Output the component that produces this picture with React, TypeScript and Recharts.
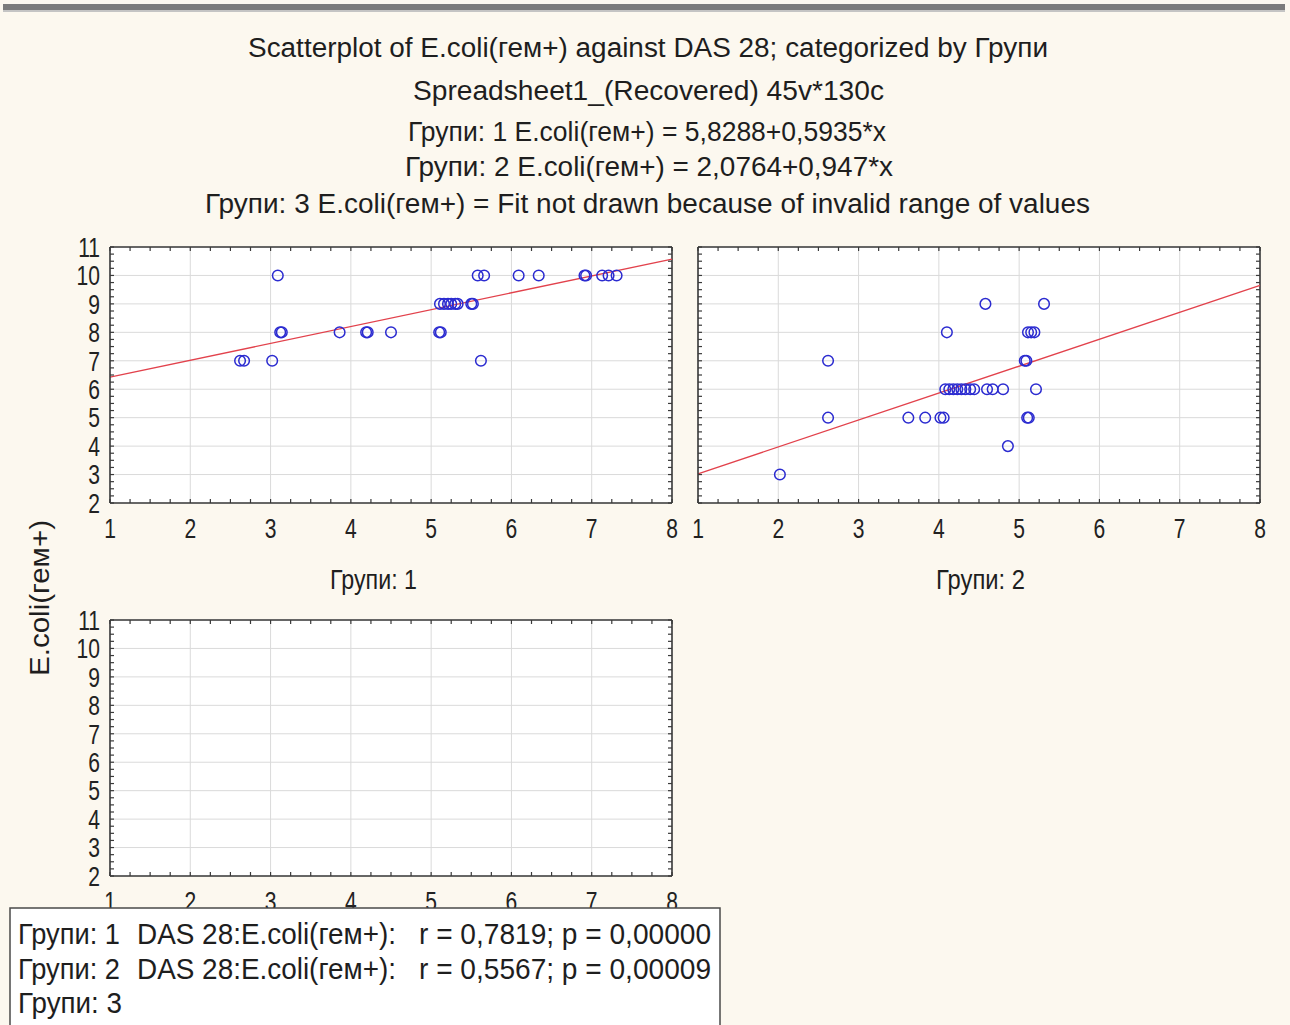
import React from "react";
import { ScatterChart, Scatter, XAxis, YAxis, CartesianGrid, ReferenceLine } from "recharts";

const FONT = '"Liberation Sans", Arial, sans-serif';
const BG = "#fcf8ef";
const FRAME = "#3a3a3a";
const GRID = "#dadada";
const DOT = "#2b2bd0";
const FIT = "#e2424c";

// axis ticks: labelled integers plus quarter-step minor marks
const xTicks = [1, 2, 3, 4, 5, 6, 7, 8];
const yTicks = [2, 3, 4, 5, 6, 7, 8, 9, 10, 11];
const quarterSteps = (from: number, to: number) => {
  const out: number[] = [];
  for (let v = from; v <= to + 1e-9; v += 0.25) out.push(Math.round(v * 100) / 100);
  return out;
};
const minorX = quarterSteps(1, 8);
const minorY = quarterSteps(2, 11);

// Групи: 1
const group1Das = [
  3.09, 2.62, 2.67, 3.02, 3.12, 3.14, 3.86, 4.19, 4.21, 4.5, 5.1, 5.12, 5.62,
  5.11, 5.16, 5.21, 5.25, 5.3, 5.33, 5.5, 5.52,
  5.58, 5.66, 6.09, 6.34, 6.91, 6.93, 7.13, 7.21, 7.31,
];
const group1Ecoli = [
  10, 7, 7, 7, 8, 8, 8, 8, 8, 8, 8, 8, 7,
  9, 9, 9, 9, 9, 9, 9, 9,
  10, 10, 10, 10, 10, 10, 10, 10, 10,
];

// Групи: 2
const group2Das = [
  2.02, 2.62, 2.62, 3.62, 3.83, 4.02, 4.06, 4.1, 4.58, 5.31,
  4.08, 4.13, 4.18, 4.23, 4.28, 4.33, 4.39, 4.44, 4.6, 4.67, 4.8, 5.21,
  5.1, 5.12, 5.07, 5.09, 5.11, 5.15, 5.19, 4.86,
];
const group2Ecoli = [
  3, 7, 5, 5, 5, 5, 5, 8, 9, 9,
  6, 6, 6, 6, 6, 6, 6, 6, 6, 6, 6, 6,
  5, 5, 7, 7, 8, 8, 8, 4,
];

// fitted lines: E.coli = a + b*x
const fitIntercept = [5.8288, 2.0764];
const fitSlope = [0.5935, 0.947];

const toPoints = (xs: number[], ys: number[]) => xs.map((x, i) => ({ x, y: ys[i] }));

const PLOT_W = 562;
const PLOT_H = 256;
const TOP_PAD = 20;
const X_AXIS_H = 44;
const TICK_FONT = 27;
const MINOR_LEN = 4;

const OpenCircle = (props: any) => {
  const { cx, cy } = props;
  if (cx == null || cy == null) return null;
  return <circle cx={cx} cy={cy} r={5.3} fill="none" stroke={DOT} strokeWidth={1.5} />;
};

const isWhole = (v: number) => Math.abs(v - Math.round(v)) < 1e-6;

// bottom axis tick: inward marks on bottom and top edges, condensed label on integers
const BottomTick = (props: any) => {
  const { x, y, payload, plotTop, plotBottom } = props;
  const v = payload.value as number;
  return (
    <g>
      <line x1={x} x2={x} y1={plotBottom} y2={plotBottom - MINOR_LEN} stroke={FRAME} strokeWidth={1.2} />
      <line x1={x} x2={x} y1={plotTop} y2={plotTop + MINOR_LEN} stroke={FRAME} strokeWidth={1.2} />
      {isWhole(v) && (
        <text
          transform={`translate(${x},${y}) scale(0.78,1)`}
          textAnchor="middle"
          dy="0.72em"
          fontSize={TICK_FONT}
          fontFamily={FONT}
          fill="#222"
        >
          {v}
        </text>
      )}
    </g>
  );
};

// left axis tick: inward marks on left and right edges, optional label
const LeftTick = (props: any) => {
  const { x, y, payload, plotLeft, plotRight, showLabel } = props;
  const v = payload.value as number;
  return (
    <g>
      <line x1={plotLeft} x2={plotLeft + MINOR_LEN} y1={y} y2={y} stroke={FRAME} strokeWidth={1.2} />
      <line x1={plotRight} x2={plotRight - MINOR_LEN} y1={y} y2={y} stroke={FRAME} strokeWidth={1.2} />
      {showLabel && isWhole(v) && (
        <text
          transform={`translate(${x},${y}) scale(0.78,1)`}
          textAnchor="end"
          dy="0.36em"
          fontSize={TICK_FONT}
          fontFamily={FONT}
          fill="#222"
        >
          {v}
        </text>
      )}
    </g>
  );
};

interface PanelProps {
  left: number;
  top: number;
  points: { x: number; y: number }[];
  fit?: { a: number; b: number };
  yLabels: boolean;
}

function Panel({ left, top, points, fit, yLabels }: PanelProps) {
  const yAxisW = yLabels ? 50 : 10;
  const width = yAxisW + PLOT_W + 10;
  const height = TOP_PAD + PLOT_H + X_AXIS_H;
  return (
    <div style={{ position: "absolute", left, top }}>
      <ScatterChart width={width} height={height} margin={{ top: TOP_PAD, right: 10, left: 0, bottom: 0 }}>
        <CartesianGrid fill="#ffffff" horizontal={false} vertical={false} />
        {xTicks.map((v) => (
          <ReferenceLine key={`gx${v}`} x={v} stroke={GRID} strokeWidth={1} />
        ))}
        {yTicks.map((v) => (
          <ReferenceLine key={`gy${v}`} y={v} stroke={GRID} strokeWidth={1} />
        ))}
        <ReferenceLine x={8} stroke={FRAME} strokeWidth={1.6} />
        <ReferenceLine y={11} stroke={FRAME} strokeWidth={1.6} />
        <XAxis
          type="number"
          dataKey="x"
          domain={[1, 8]}
          ticks={minorX}
          interval={0}
          height={X_AXIS_H}
          allowDataOverflow
          axisLine={{ stroke: FRAME, strokeWidth: 1.6 }}
          tickLine={false}
          tickSize={6}
          tickMargin={10}
          tick={<BottomTick plotTop={TOP_PAD} plotBottom={TOP_PAD + PLOT_H} />}
        />
        <YAxis
          type="number"
          dataKey="y"
          domain={[2, 11]}
          ticks={minorY}
          interval={0}
          width={yAxisW}
          allowDataOverflow
          axisLine={{ stroke: FRAME, strokeWidth: 1.6 }}
          tickLine={false}
          tickSize={6}
          tickMargin={4}
          tick={<LeftTick plotLeft={yAxisW} plotRight={yAxisW + PLOT_W} showLabel={yLabels} />}
        />
        {fit && (
          <ReferenceLine
            segment={[
              { x: 1, y: fit.a + fit.b * 1 },
              { x: 8, y: fit.a + fit.b * 8 },
            ]}
            stroke={FIT}
            strokeWidth={1.3}
          />
        )}
        {points.length > 0 && (
          <Scatter data={points} shape={OpenCircle} isAnimationActive={false} />
        )}
      </ScatterChart>
    </div>
  );
}

const txt = { fontFamily: FONT, fill: "#1e1e1e" };

export default function App() {
  return (
    <div style={{ position: "absolute", left: 0, top: 0, width: 1290, height: 1025, background: BG, overflow: "hidden" }}>
      <Panel
        left={60}
        top={227}
        points={toPoints(group1Das, group1Ecoli)}
        fit={{ a: fitIntercept[0], b: fitSlope[0] }}
        yLabels
      />
      <Panel
        left={688}
        top={227}
        points={toPoints(group2Das, group2Ecoli)}
        fit={{ a: fitIntercept[1], b: fitSlope[1] }}
        yLabels={false}
      />
      <Panel left={60} top={600} points={[]} yLabels />
      <svg width={1290} height={1025} style={{ position: "absolute", left: 0, top: 0, pointerEvents: "none" }}>
        <rect x={3} y={4} width={1282} height={6} fill="#7b7b7b" />
        <rect x={3} y={10} width={1282} height={2} fill="#c4c4c4" />
        <g {...txt} fontSize={27} dominantBaseline="central">
          <text x={248} y={48} textLength={800} lengthAdjust="spacingAndGlyphs">
            Scatterplot of E.coli(гем+) against DAS 28; categorized by Групи
          </text>
          <text x={413} y={91} textLength={471} lengthAdjust="spacingAndGlyphs">
            Spreadsheet1_(Recovered) 45v*130c
          </text>
          <text x={408} y={132} textLength={478} lengthAdjust="spacingAndGlyphs">
            Групи: 1 E.coli(гем+) = 5,8288+0,5935*x
          </text>
          <text x={405} y={167} textLength={488} lengthAdjust="spacingAndGlyphs">
            Групи: 2 E.coli(гем+) = 2,0764+0,947*x
          </text>
          <text x={205} y={204} textLength={885} lengthAdjust="spacingAndGlyphs">
            Групи: 3 E.coli(гем+) = Fit not drawn because of invalid range of values
          </text>
          <text x={330} y={580} textLength={87} lengthAdjust="spacingAndGlyphs">
            Групи: 1
          </text>
          <text x={936} y={580} textLength={89} lengthAdjust="spacingAndGlyphs">
            Групи: 2
          </text>
          <text
            x={0}
            y={0}
            transform="translate(40 676) rotate(-90)"
            textLength={156}
            lengthAdjust="spacingAndGlyphs"
          >
            E.coli(гем+)
          </text>
        </g>
        <rect x={10} y={908} width={710} height={140} fill="#ffffff" stroke="#4a4a4a" strokeWidth={1.5} />
        <g {...txt} fontSize={29} dominantBaseline="central">
          <text x={18} y={934} textLength={102} lengthAdjust="spacingAndGlyphs">Групи: 1</text>
          <text x={137} y={934} textLength={259} lengthAdjust="spacingAndGlyphs">DAS 28:E.coli(гем+):</text>
          <text x={419} y={934} textLength={292} lengthAdjust="spacingAndGlyphs">r = 0,7819; p = 0,00000</text>
          <text x={18} y={969} textLength={102} lengthAdjust="spacingAndGlyphs">Групи: 2</text>
          <text x={137} y={969} textLength={259} lengthAdjust="spacingAndGlyphs">DAS 28:E.coli(гем+):</text>
          <text x={419} y={969} textLength={292} lengthAdjust="spacingAndGlyphs">r = 0,5567; p = 0,00009</text>
          <text x={18} y={1003} textLength={104} lengthAdjust="spacingAndGlyphs">Групи: 3</text>
        </g>
      </svg>
    </div>
  );
}
